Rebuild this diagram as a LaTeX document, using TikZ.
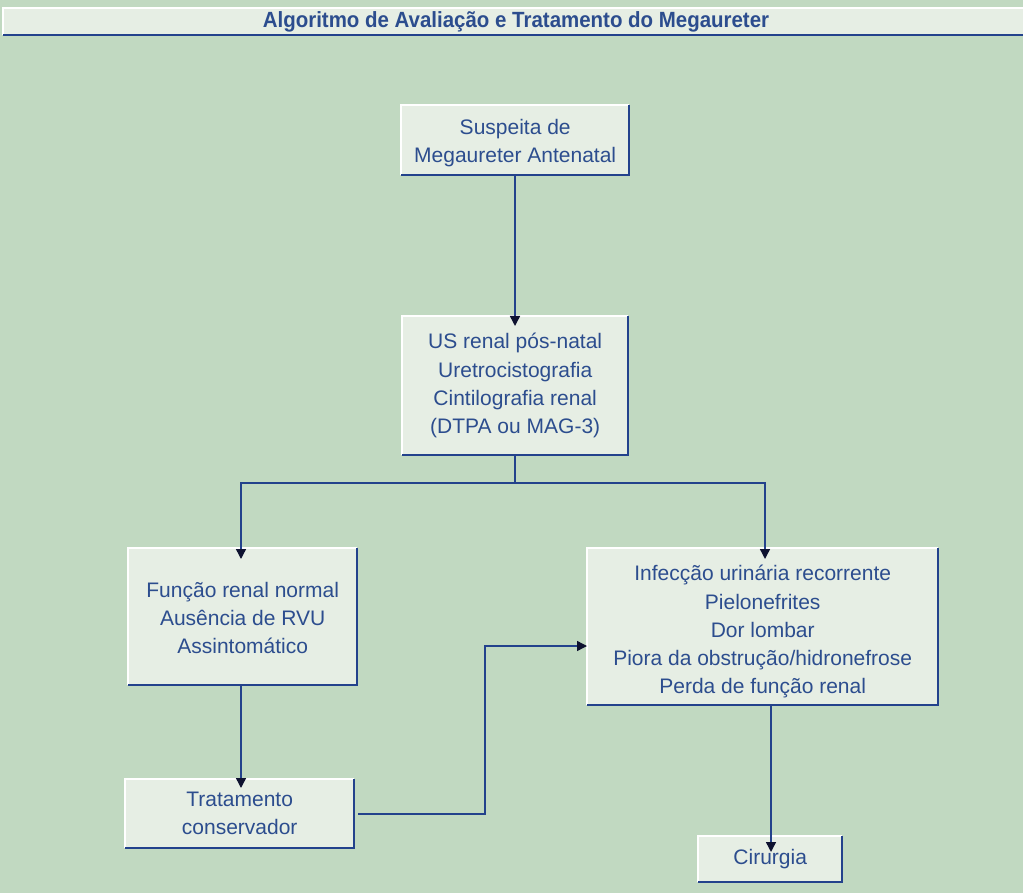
\documentclass[tikz,border=0pt]{standalone}
\usepackage{fontspec}
\setmainfont{Liberation Sans}
\newfontfamily\titlefont[FakeStretch=0.93]{Liberation Sans}
\usetikzlibrary{arrows.meta}
\definecolor{bg}{HTML}{C1D9C1}
\definecolor{boxfill}{HTML}{E6EEE4}
\definecolor{txt}{HTML}{2C4D8E}
\definecolor{edge}{HTML}{23428C}
\definecolor{tip}{HTML}{0E1230}
\tikzset{
  box/.style={fill=boxfill, inner sep=0pt, anchor=north west},
  lbl/.style={text=txt, align=center, font=\fontsize{21}{28.2}\selectfont},
  conn/.style={edge, line width=1.4pt},
  arr/.style={conn, -{Triangle[width=10pt,length=10pt,fill=tip,color=tip]}},
}
\newcommand{\boxedges}[1]{%
  \draw[white, line width=1.2pt] (#1.south west) |- (#1.north east);
  \draw[edge, line width=2pt] (#1.north east) |- (#1.south west);
}
\begin{document}
\begin{tikzpicture}[x=1pt,y=-1pt]
\useasboundingbox (0,0) rectangle (1023,893);
\fill[bg] (0,0) rectangle (1023,893);
% header
\fill[boxfill] (3,8) rectangle (1023,35);
\draw[white, line width=1.2pt] (3,35) -- (3,8) -- (1023,8);
\draw[edge, line width=2pt] (3,35) -- (1023,35);
\node[text=txt, font=\titlefont\bfseries\fontsize{22}{24}\selectfont] (title) at (516,22) {Algoritmo de Avaliação e Tratamento do Megaureter};
% boxes
\node[box, minimum width=228pt, minimum height=70pt] (b1) at (401,105) {};
\node[lbl] (t1) at ([yshift=-3pt]b1.center) {Suspeita de\\Megaureter Antenatal};
\node[box, minimum width=226pt, minimum height=139pt] (b2) at (402,316) {};
\node[lbl] (t2) at (b2.center) {US renal pós-natal\\Uretrocistografia\\Cintilografia renal\\(DTPA ou MAG-3)};
\node[box, minimum width=229pt, minimum height=137pt] (b3) at (128,548) {};
\node[lbl] (t3) at ([yshift=-1pt]b3.center) {Função renal normal\\Ausência de RVU\\Assintomático};
\node[box, minimum width=351pt, minimum height=157pt] (b4) at (587,548) {};
\node[lbl] (t4) at ([yshift=-5pt]b4.center) {Infecção urinária recorrente\\Pielonefrites\\Dor lombar\\Piora da obstrução/hidronefrose\\Perda de função renal};
\node[box, minimum width=229pt, minimum height=69pt] (b5) at (125,779) {};
\node[lbl] (t5) at (b5.center) {Tratamento\\conservador};
\node[box, minimum width=144pt, minimum height=46pt] (b6) at (698,836) {};
\node[lbl] (t6) at (b6.center) {Cirurgia};
\foreach \n in {b1,b2,b3,b4,b5,b6} {\boxedges{\n}}
% connectors
\coordinate (j) at (515,483);
\coordinate (jl) at (241,483);
\coordinate (jr) at (765,483);
\draw[arr] (b1.south -| j) -- ([yshift=-10pt]b2.north -| j);
\draw[conn] (b2.south -| j) -- (j);
\draw[arr] (j) -- (jl) -- ([yshift=-11pt]b3.north -| jl);
\draw[arr] (j) -- (jr) -- ([yshift=-11pt]b4.north -| jr);
\coordinate (c3) at (241,0);
\draw[arr] (b3.south -| c3) -- ([yshift=-9pt]b5.north -| c3);
\coordinate (m1) at (358,814);
\coordinate (m2) at (485,814);
\coordinate (m3) at (485,646);
\draw[arr] (m1) -- (m2) -- (m3) -- (b4.west |- m3);
\coordinate (c4) at (771,0);
\draw[arr] (b4.south -| c4) -- ([yshift=-16pt]b6.north -| c4);
\end{tikzpicture}
\end{document}
